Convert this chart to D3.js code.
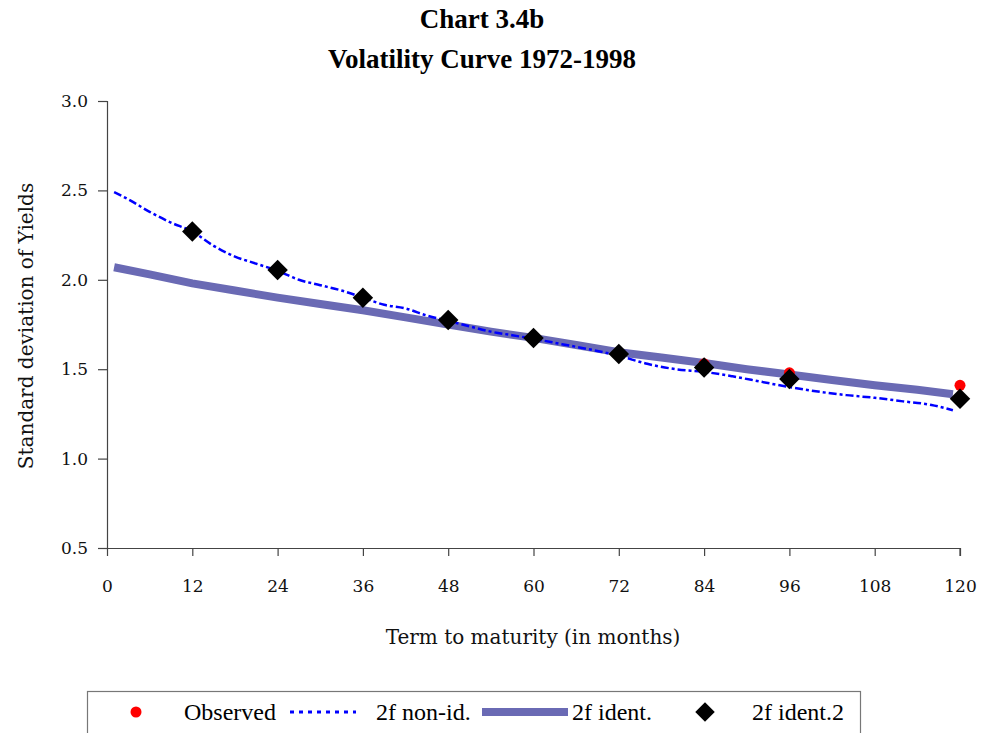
<!DOCTYPE html>
<html>
<head>
<meta charset="utf-8">
<script src="https://cdn.jsdelivr.net/npm/d3@7/dist/d3.min.js"></script>
<style>
  html, body { margin: 0; padding: 0; background: #fff; }
  svg { display: block; }
</style>
</head>
<body>
<svg id="chart" width="983" height="733"></svg>
<script>
// Observed yields volatility and the fitted two-factor models
const obsMonths = [12, 24, 36, 48, 60, 72, 84, 96, 120];
const observed = [2.28, 2.06, 1.90, 1.78, 1.68, 1.59, 1.53, 1.48, 1.41];
const ident2 = [2.27, 2.055, 1.90, 1.775, 1.675, 1.585, 1.51, 1.445, 1.335];

const nonIdMonths = [1, 3, 6, 9, 12, 15, 18, 21, 24, 27, 30, 33, 36, 39, 42, 45, 48, 51, 54, 57, 60,
  64, 68, 72, 76, 80, 84, 88, 92, 96, 100, 104, 108, 112, 116, 119];
const nonId = [2.49, 2.45, 2.38, 2.32, 2.27, 2.19, 2.13, 2.09, 2.05, 2.00, 1.97, 1.94, 1.90, 1.86, 1.84,
  1.80, 1.77, 1.74, 1.71, 1.69, 1.67, 1.64, 1.61, 1.575, 1.53, 1.50, 1.485, 1.46, 1.43, 1.40, 1.375,
  1.355, 1.34, 1.32, 1.30, 1.27];

const identMonths = [1, 6, 12, 18, 24, 30, 36, 42, 48, 54, 60, 66, 72, 78, 84, 90, 96, 102, 108, 114, 119];
const ident = [2.07, 2.03, 1.98, 1.94, 1.90, 1.865, 1.83, 1.79, 1.75, 1.71, 1.675, 1.635, 1.595, 1.565,
  1.535, 1.50, 1.47, 1.44, 1.41, 1.385, 1.36];

const xTicks = [0, 12, 24, 36, 48, 60, 72, 84, 96, 108, 120];
const yTicks = [0.5, 1.0, 1.5, 2.0, 2.5, 3.0];

const titleLines = ["Chart 3.4b", "Volatility Curve 1972-1998"];
const xTitle = "Term to maturity (in months)";
const yTitle = "Standard deviation of Yields";
const legendNames = ["Observed", "2f non-id.", "2f ident.", "2f ident.2"];

const svg = d3.select("#chart");
const serif = "'DejaVu Serif', serif";
const titleFont = "'Liberation Serif', serif";
const axisColor = "#444";
const bandColor = "#6a6ab4";

const x = d3.scaleLinear().domain([0, 120]).range([107, 960]);
const y = d3.scaleLinear().domain([0.5, 3.0]).range([548, 101]);

// titles
svg.selectAll("text.title").data(titleLines).join("text")
  .attr("class", "title")
  .attr("x", 482).attr("y", (d, i) => 28 + i * 40)
  .attr("text-anchor", "middle")
  .attr("font-family", titleFont).attr("font-weight", "bold").attr("font-size", 27)
  .attr("fill", "#000").text(d => d);

// axes
const xAxis = d3.axisBottom(x).tickValues(xTicks).tickSize(8).tickPadding(24).tickFormat(d3.format("d"));
const yAxis = d3.axisLeft(y).tickValues(yTicks).tickSize(9).tickPadding(10).tickFormat(d3.format(".1f"));

const gx = svg.append("g").attr("transform", `translate(0,${y(0.5)})`).call(xAxis);
const gy = svg.append("g").attr("transform", `translate(${x(0)},0)`).call(yAxis);
[gx, gy].forEach(g => {
  g.select(".domain").attr("stroke", axisColor).attr("stroke-width", 1.2);
  g.selectAll(".tick line").attr("stroke", axisColor).attr("stroke-width", 1.2);
  g.selectAll(".tick text").attr("font-family", serif).attr("font-size", 17).attr("fill", "#111");
});
gx.select(".domain").attr("d", `M${x(0) - 9},0.5H${x(120)}V8`);
gx.selectAll(".tick text").attr("dy", "0.71em");

// axis titles
svg.append("text").attr("x", 533).attr("y", 644).attr("text-anchor", "middle")
  .attr("font-family", serif).attr("font-size", 20).attr("fill", "#111").text(xTitle);
svg.append("text").attr("transform", "translate(33,326) rotate(-90)").attr("text-anchor", "middle")
  .attr("font-family", serif).attr("font-size", 20).attr("fill", "#111").text(yTitle);

// series
const line = d3.line().x(d => x(d[0])).y(d => y(d[1]));

svg.append("path")
  .datum(identMonths.map((m, i) => [m, ident[i]]))
  .attr("d", line).attr("fill", "none")
  .attr("stroke", bandColor).attr("stroke-width", 8);

svg.append("path")
  .datum(nonIdMonths.map((m, i) => [m, nonId[i]]))
  .attr("d", line.curve(d3.curveMonotoneX)).attr("fill", "none")
  .attr("stroke", "#0000ff").attr("stroke-width", 2.5)
  .attr("stroke-dasharray", "8,3,3,3");

svg.selectAll("circle.obs").data(obsMonths.map((m, i) => [m, observed[i]])).join("circle")
  .attr("class", "obs")
  .attr("cx", d => x(d[0])).attr("cy", d => y(d[1])).attr("r", 5.5)
  .attr("fill", "#ff0000");

const diamond = d3.symbol().type(d3.symbolSquare).size(210);
svg.selectAll("path.id2").data(obsMonths.map((m, i) => [m, ident2[i]])).join("path")
  .attr("class", "id2")
  .attr("d", diamond)
  .attr("transform", d => `translate(${x(d[0])},${y(d[1])}) rotate(45)`)
  .attr("fill", "#000");

// legend
const lg = svg.append("g");
lg.append("rect").attr("x", 87.5).attr("y", 691.5).attr("width", 773).attr("height", 60)
  .attr("fill", "#fff").attr("stroke", "#777").attr("stroke-width", 1.2);
const ly = 712;
lg.append("circle").attr("cx", 136).attr("cy", ly).attr("r", 5.5).attr("fill", "#ff0000");
lg.append("line").attr("x1", 290).attr("x2", 356).attr("y1", ly).attr("y2", ly)
  .attr("stroke", "#0000ff").attr("stroke-width", 3).attr("stroke-dasharray", "4,5");
lg.append("line").attr("x1", 482).attr("x2", 568).attr("y1", ly).attr("y2", ly)
  .attr("stroke", bandColor).attr("stroke-width", 8);
lg.append("path").attr("d", d3.symbol().type(d3.symbolSquare).size(190))
  .attr("transform", `translate(705,${ly}) rotate(45)`).attr("fill", "#000");
const lx = [184, 376, 572, 752];
lg.selectAll("text").data(legendNames).join("text")
  .attr("x", (d, i) => lx[i]).attr("y", ly + 8)
  .attr("font-family", titleFont).attr("font-size", 24).attr("fill", "#000")
  .text(d => d);
</script>
</body>
</html>
